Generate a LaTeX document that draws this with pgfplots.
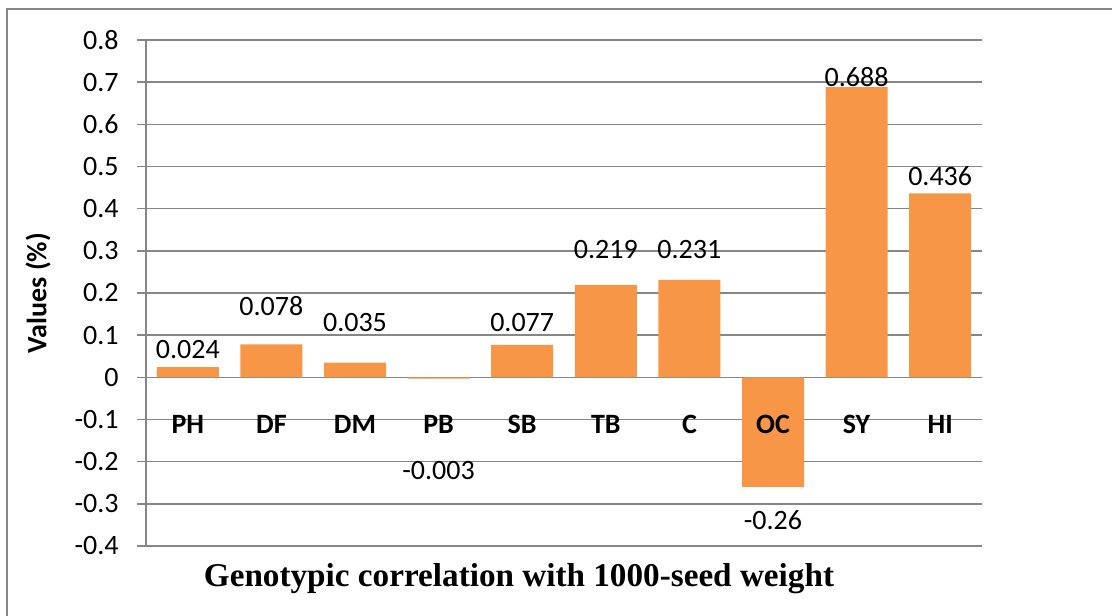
\documentclass[border=0pt]{standalone}
\usepackage{fontspec}
\setmainfont{Carlito}
\newfontfamily\titlefont{Liberation Serif}
\usepackage{pgfplots}
\usepackage{pgfplotstable}
\pgfplotsset{compat=1.18}
\definecolor{barorange}{RGB}{247,150,70}
\definecolor{gridgray}{RGB}{134,134,134}

\pgfplotstableread{
x y
0 0.024
1 0.078
2 0.035
3 -0.003
4 0.077
5 0.219
6 0.231
7 -0.26
8 0.688
9 0.436
}\bardata

\pgfplotstableread{
x y label
0 0.067 0.024
1 0.170 0.078
2 0.130 0.035
3 -0.220 -0.003
4 0.130 0.077
5 0.302 0.219
6 0.302 0.231
7 -0.338 -0.26
8 0.712 0.688
9 0.476 0.436
}\labeldata

\pgfplotstableread{
x y cat
0 -0.1107 PH
1 -0.1107 DF
2 -0.1107 DM
3 -0.1107 PB
4 -0.1107 SB
5 -0.1107 TB
6 -0.1107 C
7 -0.1107 OC
8 -0.1107 SY
9 -0.1107 HI
}\catdata

\begin{document}
\begin{tikzpicture}
\useasboundingbox (0,0) rectangle (556pt,307.5pt);
\draw[gridgray, line width=1pt] (3.5pt,-1pt) -- (3.5pt,303pt) -- (557pt,303pt);
\begin{axis}[
  at={(73pt,34.5pt)}, anchor=south west,
  scale only axis, width=418pt, height=253pt,
  xmin=-0.5, xmax=9.5, ymin=-0.4, ymax=0.8,
  axis y line*=left, axis x line*=middle,
  axis line style={gridgray, line width=0.75pt},
  every tick/.style={gridgray, line width=0.75pt},
  ytick={-0.4,-0.3,-0.2,-0.1,0,0.1,0.2,0.3,0.4,0.5,0.6,0.7,0.8},
  yticklabels={-0.4,-0.3,-0.2,-0.1,0,0.1,0.2,0.3,0.4,0.5,0.6,0.7,0.8},
  ymajorgrids, grid style={gridgray, line width=0.75pt},
  major tick length=4.5pt,
  ytick align=outside,
  xtick={0,...,9},
  xticklabels={},
  x tick style={draw=none},
  minor xtick={-0.5,0.5,...,9.5},
  minor x tick style={gridgray, line width=0.75pt, yshift=-2.25pt},
  minor tick length=4.5pt,
  yticklabel style={font=\fontsize{14pt}{16pt}\selectfont, inner sep=0pt, anchor=east, xshift=-9pt},
  ylabel={Values (\%)},
  every axis y label/.style={at={(axis description cs:-0.129,0.5)}, rotate=90, anchor=center, font=\fontsize{14pt}{16pt}\selectfont\bfseries},
  clip=false,
]
\addplot[ybar, bar width=31pt, fill=barorange, draw=none] table[x=x, y=y] {\bardata};
\addplot[draw=none, nodes near coords, point meta=explicit symbolic,
  nodes near coords align=center,
  every node near coord/.style={font=\fontsize{14pt}{16pt}\selectfont, inner sep=0pt, anchor=center, text=black}]
  table[x=x, y=y, meta=label] {\labeldata};
\addplot[draw=none, nodes near coords, point meta=explicit symbolic,
  nodes near coords align=center,
  every node near coord/.style={font=\fontsize{14pt}{16pt}\selectfont\bfseries, inner sep=0pt, anchor=center, text=black}]
  table[x=x, y=y, meta=cat] {\catdata};
\end{axis}
\node[font=\titlefont\bfseries\fontsize{16.6pt}{19pt}\selectfont, anchor=base] at (259.5pt,14pt) {Genotypic correlation with 1000-seed weight};
\end{tikzpicture}
\end{document}
